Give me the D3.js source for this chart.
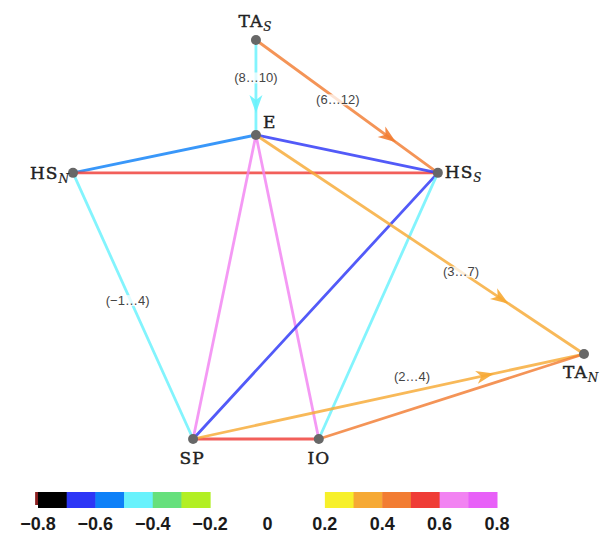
<!DOCTYPE html>
<html><head><meta charset="utf-8">
<script src="https://cdn.jsdelivr.net/npm/d3@7"></script>
<style>body{margin:0;background:#fff}</style>
</head><body><svg id="chart" width="608" height="536"></svg>
<script>
// Nodes of the teleconnection network and their layout coordinates (layout units)
const nodeIds   = ["TAS", "E", "HSN", "HSS", "TAN", "SP", "IO"];
const nodeBase  = ["TA", "E", "HS", "HS", "TA", "SP", "IO"];
const nodeSub   = ["S", "", "N", "S", "N", "", ""];
const nodeLayoutX = [3.58, 3.58, 0, 7.14, 10, 2.35, 4.81];
const nodeLayoutY = [0, 2.38, 3.33, 3.33, 7.87, 10, 10];

// Links between nodes: correlation, direction and lag range
const linkSource   = ["TAS", "TAS", "HSN", "HSN", "HSN", "E", "E", "E", "HSS", "HSS", "SP", "E", "SP", "IO"];
const linkTarget   = ["E", "HSS", "E", "HSS", "SP", "HSS", "SP", "IO", "SP", "IO", "IO", "TAN", "TAN", "TAN"];
const linkCorr     = [-0.45, 0.45, -0.55, 0.55, -0.45, -0.65, 0.65, 0.65, -0.65, -0.45, 0.55, 0.35, 0.35, 0.45];
const linkDirected = [true, true, false, false, false, false, false, false, false, false, false, true, true, false];
const linkLag      = ["(8…10)", "(6…12)", "", "", "(−1…4)", "", "", "", "", "", "", "(3…7)", "(2…4)", ""];

// Colour bar classes
const corrBreaks = [-0.7, -0.6, -0.5, -0.4, -0.3, -0.2, 0.2, 0.3, 0.4, 0.5, 0.6, 0.7];
const corrColors = ["#000000", "#2c36f6", "#0d80f8", "#68f2fc", "#66e07c", "#b2ef24", "#ffffff",
                    "#f7f02a", "#f6a934", "#f27c32", "#ef3c36", "#f283f2", "#e860f8"];
const legendTicks = [-0.8, -0.6, -0.4, -0.2, 0, 0.2, 0.4, 0.6, 0.8];

const svg = d3.select("#chart");

const x = d3.scaleLinear().domain([0, 10]).range([73, 584]);
const y = d3.scaleLinear().domain([0, 10]).range([40, 439]);
const color = d3.scaleThreshold().domain(corrBreaks).range(corrColors);

const nodes = nodeIds.map((id, i) => ({
  id, base: nodeBase[i], sub: nodeSub[i], px: x(nodeLayoutX[i]), py: y(nodeLayoutY[i])
}));
const byId = new Map(nodes.map(n => [n.id, n]));
const links = linkSource.map((s, i) => ({
  s: byId.get(s), t: byId.get(linkTarget[i]), r: linkCorr[i], dir: linkDirected[i], lag: linkLag[i]
}));

// edges
const gEdges = svg.append("g");
gEdges.selectAll("line").data(links).join("line")
  .attr("x1", d => d.s.px).attr("y1", d => d.s.py)
  .attr("x2", d => d.t.px).attr("y2", d => d.t.py)
  .attr("stroke", d => color(d.r))
  .attr("stroke-opacity", 0.82)
  .attr("stroke-width", 2.8)
  .attr("stroke-linecap", "round");

// arrowheads on directed edges
const arrowAt = 0.77;
gEdges.selectAll("path").data(links.filter(d => d.dir)).join("path")
  .attr("d", "M0,0 L-18,-6.5 L-13,0 L-18,6.5 Z")
  .attr("fill", d => color(d.r))
  .attr("fill-opacity", 0.9)
  .attr("transform", d => {
    const px = d.s.px + (d.t.px - d.s.px) * arrowAt;
    const py = d.s.py + (d.t.py - d.s.py) * arrowAt;
    const ang = Math.atan2(d.t.py - d.s.py, d.t.px - d.s.px) * 180 / Math.PI;
    return `translate(${px},${py}) rotate(${ang})`;
  });

// lag labels
const lagPlace = { "TAS-E": [0.4, 0, 0], "TAS-HSS": [0.45, 0, 0], "HSN-SP": [0.48, -3, 0],
                   "E-TAN": [0.625, 0, 0], "SP-TAN": [0.56, 0, -15] };
const gLag = svg.append("g");
links.filter(d => d.lag).forEach(d => {
  const p = lagPlace[d.s.id + "-" + d.t.id] || [0.5, 0, 0];
  const cx = d.s.px + (d.t.px - d.s.px) * p[0] + p[1];
  const cy = d.s.py + (d.t.py - d.s.py) * p[0] + p[2];
  const g = gLag.append("g");
  const txt = g.append("text")
    .attr("x", cx).attr("y", cy + 4.5)
    .attr("text-anchor", "middle")
    .attr("font-family", "Liberation Sans, Arial, sans-serif")
    .attr("font-size", 13)
    .attr("fill", "#444")
    .text(d.lag);
  const bb = txt.node().getBBox();
  g.insert("rect", "text")
    .attr("x", bb.x).attr("y", bb.y + 2)
    .attr("width", bb.width).attr("height", bb.height - 4)
    .attr("fill", "#fff").attr("fill-opacity", 0.75);
});

// nodes
svg.append("g").selectAll("circle").data(nodes).join("circle")
  .attr("cx", d => d.px).attr("cy", d => d.py).attr("r", 5)
  .attr("fill", "#676767");

// node labels
const labelPlace = {
  TAS: ["middle", -1, -13], E: ["start", 7, -7], HSN: ["end", -4, 6], HSS: ["start", 7, 5],
  TAN: ["start", -21, 24], SP: ["middle", -1, 25], IO: ["middle", 0, 25]
};
const gLab = svg.append("g")
  .attr("font-family", "DejaVu Serif, serif")
  .attr("fill", "#222")
  .attr("stroke", "#222")
  .attr("stroke-width", 0.45);
nodes.forEach(n => {
  const p = labelPlace[n.id];
  const t = gLab.append("text")
    .attr("x", n.px + p[1]).attr("y", n.py + p[2])
    .attr("text-anchor", p[0])
    .attr("font-size", 17)
    .attr("letter-spacing", 1);
  t.append("tspan").text(n.base);
  if (n.sub) {
    t.append("tspan").attr("font-size", 12).attr("font-style", "italic")
      .attr("stroke-width", 0.2).attr("letter-spacing", 0)
      .attr("dy", 4).text(n.sub);
  }
});

// colour bar legend
const lx = d3.scaleLinear().domain([-0.8, 0.8]).range([38, 497]);
const bins = [];
const edges = [-0.8].concat(corrBreaks, [0.8]);
for (let i = 0; i < edges.length - 1; i++) {
  if (edges[i] < 0 && edges[i + 1] > 0) continue;
  bins.push({ a: edges[i], b: edges[i + 1], c: color((edges[i] + edges[i + 1]) / 2) });
}
const gLeg = svg.append("g");
gLeg.append("rect").attr("x", lx(-0.81)).attr("y", 492)
  .attr("width", lx(-0.8) - lx(-0.81) + 1).attr("height", 13).attr("fill", "#8c2020");
gLeg.selectAll("rect.bin").data(bins).join("rect").attr("class", "bin")
  .attr("x", d => lx(d.a)).attr("y", 492)
  .attr("width", d => lx(d.b) - lx(d.a) + 0.5).attr("height", 16)
  .attr("fill", d => d.c);

const fmt = d3.format(".1f");
gLeg.selectAll("text").data(legendTicks).join("text")
  .attr("x", d => lx(d)).attr("y", 530)
  .attr("text-anchor", "middle")
  .attr("font-family", "Liberation Sans, Arial, sans-serif")
  .attr("font-weight", "bold")
  .attr("font-size", 18)
  .attr("fill", "#1a1a1a")
  .text(d => d === 0 ? "0" : fmt(d));
</script>
</body></html>
